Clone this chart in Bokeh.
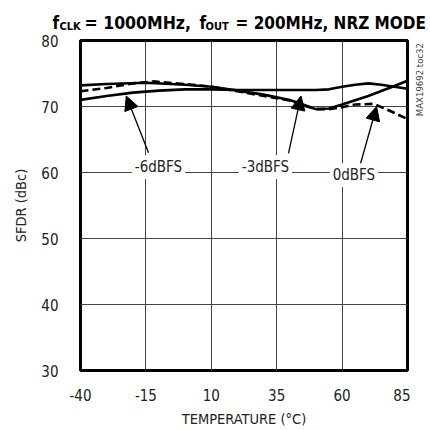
from bokeh.plotting import figure
from bokeh.models import Label, Arrow, NormalHead, FixedTicker, Range1d
from bokeh.layouts import column, row
from bokeh.embed import file_html
from bokeh.resources import INLINE

# ---- data ----
temp_m3 = [-40, -30, -15, 0, 10, 20, 30, 40, 45, 50, 55, 60, 70, 80, 85]
sfdr_m3 = [73.2, 73.4, 73.6, 73.3, 73.0, 72.4, 71.8, 71.0, 70.3, 69.6, 69.7, 70.3, 71.6, 73.1, 73.9]

temp_0 = [-40, -30, -20, -12, 0, 10, 20, 30, 40, 45, 50, 55, 60, 65, 72, 78, 85]
sfdr_0 = [72.3, 72.8, 73.5, 73.8, 73.4, 73.0, 72.3, 71.6, 70.9, 70.2, 69.6, 69.6, 69.9, 70.3, 70.4, 69.4, 68.1]

temp_m6 = [-40, -30, -20, -10, 0, 10, 20, 30, 40, 50, 55, 60, 65, 70, 75, 80, 85]
sfdr_m6 = [71.0, 71.6, 72.1, 72.4, 72.6, 72.6, 72.5, 72.5, 72.5, 72.5, 72.6, 73.0, 73.3, 73.5, 73.3, 73.0, 72.7]

x_ticks = [-40, -15, 10, 35, 60, 85]
y_ticks = [30, 40, 50, 60, 70, 80]
x_tick_labels = {-40: "-40", -15: "-15", 10: "10", 35: "35", 60: "60", 85: "85"}

FONT = "'DejaVu Sans Condensed', 'DejaVu Sans', sans-serif"
TXT = "#222222"

# ---- title strip ----
t = figure(width=430, height=33, output_backend="svg", toolbar_location=None,
           x_range=Range1d(0, 430), y_range=Range1d(0, 33),
           x_axis_type=None, y_axis_type=None, min_border=0)
t.outline_line_color = None
t.grid.visible = False
title_parts = [(52, 11, "f", "17px"), (59, 7.5, "CLK", "11px"), (84, 11, "= 1000MHz,", "17.5px"),
               (199, 11, "f", "17px"), (205, 7.5, "OUT", "11px"), (235, 11, "= 200MHz, NRZ MODE", "17px")]
for (tx, ty, s, fs) in title_parts:
    t.add_layout(Label(x=tx, y=ty, text=s, text_align="left", text_baseline="alphabetic",
                       text_font=FONT, text_font_style="bold", text_font_size=fs, text_color="black"))

# ---- main chart ----
p = figure(width=410, height=397, output_backend="svg", toolbar_location=None,
           x_range=Range1d(-40, 85), y_range=Range1d(30, 80),
           frame_width=327, frame_height=330,
           min_border_left=80, min_border_right=3, min_border_top=7, min_border_bottom=60)

p.outline_line_color = "black"
p.outline_line_width = 3

for ax in (p.xaxis[0], p.yaxis[0]):
    ax.axis_line_color = None
    ax.major_tick_line_color = None
    ax.minor_tick_line_color = None
    ax.major_label_text_font = FONT
    ax.major_label_text_font_size = "15px"
    ax.major_label_text_color = TXT
    ax.axis_label_text_font = FONT
    ax.axis_label_text_font_size = "14.5px"
    ax.axis_label_text_font_style = "normal"
    ax.axis_label_text_color = TXT

p.xaxis.ticker = FixedTicker(ticks=x_ticks)
p.xaxis.major_label_overrides = x_tick_labels
p.yaxis.ticker = FixedTicker(ticks=y_ticks)
p.xaxis.major_label_standoff = 12
p.yaxis.major_label_standoff = 16
p.xaxis.axis_label = "TEMPERATURE (°C)"
p.yaxis.axis_label = "SFDR (dBc)"
p.xaxis.axis_label_standoff = 7
p.yaxis.axis_label_standoff = 9

p.xgrid.ticker = FixedTicker(ticks=x_ticks)
p.ygrid.ticker = FixedTicker(ticks=y_ticks)
for g in (p.xgrid[0], p.ygrid[0]):
    g.grid_line_color = "#444444"
    g.grid_line_width = 1
    g.grid_line_alpha = 1

p.line(temp_m6, sfdr_m6, line_color="black", line_width=2.6, line_join="round")
p.line(temp_m3, sfdr_m3, line_color="black", line_width=2.6, line_join="round")
p.line(temp_0, sfdr_0, line_color="black", line_width=2.6, line_dash="8 4", line_join="round")

# arrows
for (xs, ys, xe, ye) in [(-14, 63.0, -22.5, 71.6), (39.5, 62.9, 44.3, 71.6), (66.3, 60.3, 73.2, 70.0)]:
    p.add_layout(Arrow(x_start=xs, y_start=ys, x_end=xe, y_end=ye, line_width=1.3, line_color="black",
                       end=NormalHead(size=14, fill_color="black", line_color="black", line_width=1)))

# curve labels
for (tx, ty, s) in [(-10.2, 60.8, "-6dBFS"), (30.7, 60.8, "-3dBFS"), (64.5, 59.6, "0dBFS")]:
    p.add_layout(Label(x=tx, y=ty, text=s, text_align="center", text_baseline="middle",
                       text_font=FONT, text_font_size="15px", text_color=TXT,
                       background_fill_color="white", padding=3))

# ---- side note strip ----
sd = figure(width=20, height=397, output_backend="svg", toolbar_location=None,
            x_range=Range1d(0, 20), y_range=Range1d(0, 397),
            x_axis_type=None, y_axis_type=None, min_border=0)
sd.outline_line_color = None
sd.grid.visible = False
sd.add_layout(Label(x=9, y=350, text="MAX19692 toc32", angle=1.5708, text_align="center",
                    text_baseline="middle", text_font=FONT, text_font_size="9.5px", text_color="#444444"))

layout = column(t, row(p, sd, spacing=0), spacing=0)
open("out.html", "w").write(file_html(layout, INLINE))
